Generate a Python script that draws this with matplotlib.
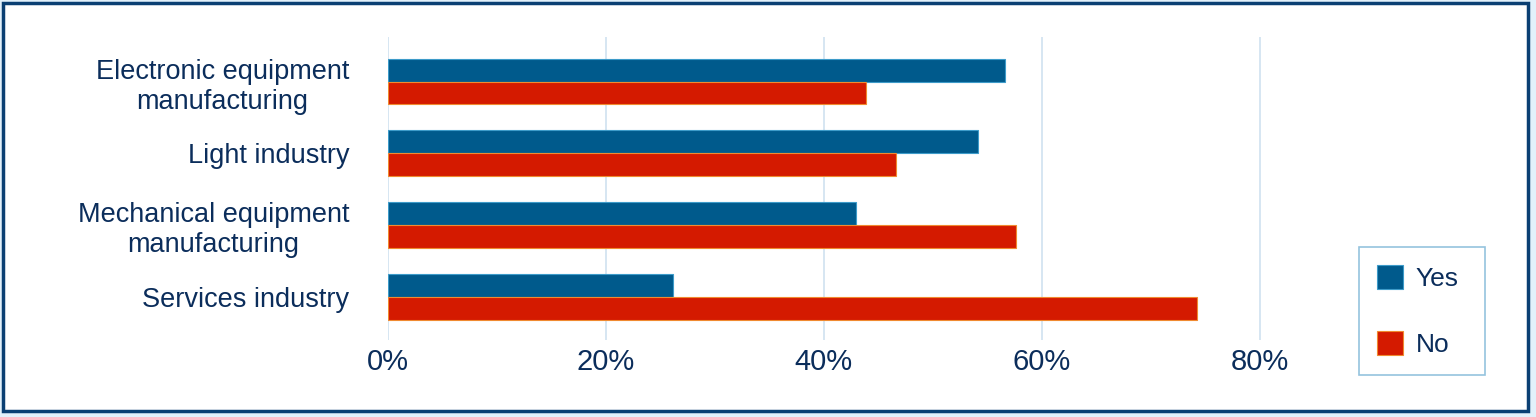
import matplotlib.pyplot as plt
from matplotlib.patches import Rectangle

categories = ["Electronic equipment\nmanufacturing", "Light industry",
              "Mechanical equipment\nmanufacturing", "Services industry"]
yes = [56.6, 54.1, 43.0, 26.2]
no = [43.9, 46.6, 57.6, 74.2]
xticks = [0, 20, 40, 60, 80]

navy = "#0b2d5b"
blue = "#005a8c"
red = "#d41a00"

plt.rcParams['font.family'] = ['Liberation Sans', 'DejaVu Sans']

fig = plt.figure(figsize=(15.36, 4.17), dpi=100)
fig.patch.set_facecolor("#e2f1fb")
fig.patches.append(Rectangle((3 / 1536, 6 / 417), 1525 / 1536, 408 / 417,
                             transform=fig.transFigure, facecolor="white",
                             edgecolor="#0a3f73", linewidth=2.5, zorder=-5))

ax = fig.add_axes([387.5 / 1536, 77 / 417, 927 / 1536, 303 / 417])
ax.set_facecolor("none")
h = 0.32
pos = range(len(categories))
ax.barh([p - h / 2 for p in pos], yes, height=h, color=blue, edgecolor="#3d9bc9",
        linewidth=0.8, label="Yes", zorder=2)
ax.barh([p + h / 2 for p in pos], no, height=h, color=red, edgecolor="#f08a30",
        linewidth=0.8, label="No", zorder=2)

ax.set_xlim(0, 85)
ax.set_ylim(3.6, -0.62)
ax.set_xticks(xticks)
ax.set_xticklabels([f"{t}%" for t in xticks])
ax.set_yticks(list(pos))
ax.set_yticklabels(categories, ha="right", multialignment="center")
ax.tick_params(axis="both", length=0, colors=navy)
ax.tick_params(axis="x", pad=6, labelsize=21)
ax.tick_params(axis="y", pad=27.5, labelsize=19.5)
ax.grid(axis="x", color="#cfe2f0", linewidth=1.2, zorder=0)
for s in ax.spines.values():
    s.set_visible(False)

leg = fig.legend(loc="upper left",
                 bbox_to_anchor=(1359 / 1536, 1 - 377 / 417, 126 / 1536, 130 / 417),
                 mode="expand", fontsize=19, frameon=True, fancybox=False,
                 handlelength=0.95, handleheight=1.0, handletextpad=0.5,
                 labelspacing=1.5, borderpad=0.7, borderaxespad=0)
leg.get_frame().set_edgecolor("#7ab4d6")
leg.get_frame().set_linewidth(1.2)
for t in leg.get_texts():
    t.set_color(navy)

fig.savefig("out.png", dpi=100, facecolor=fig.get_facecolor())
